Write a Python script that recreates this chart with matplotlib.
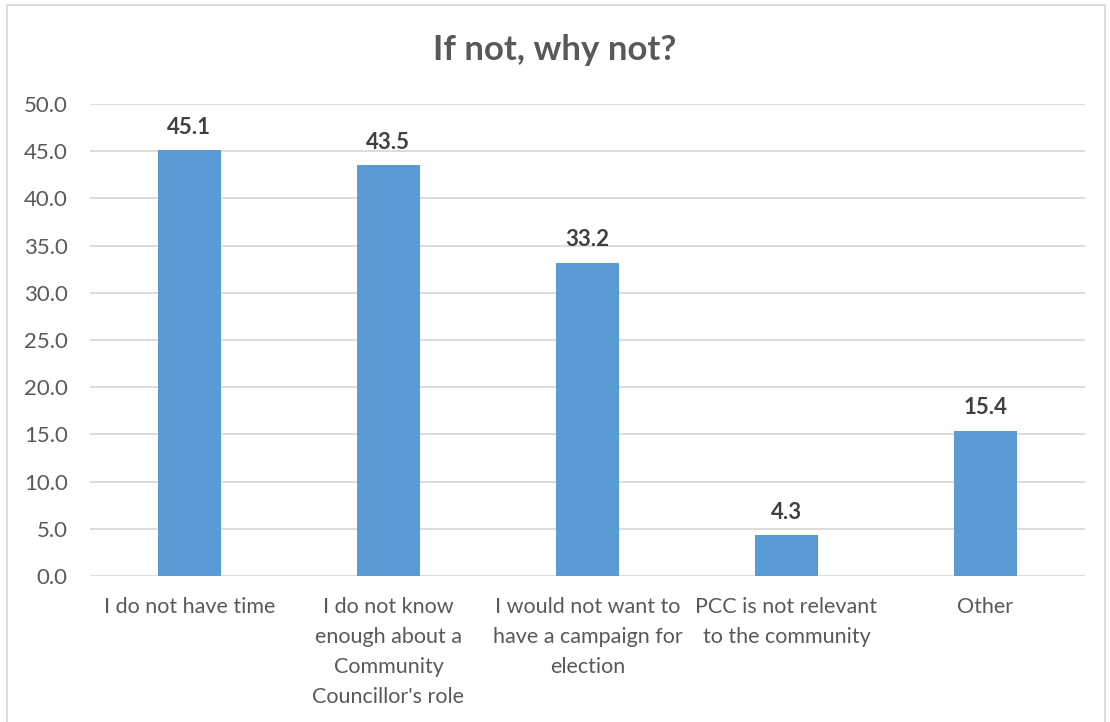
import matplotlib.pyplot as plt
import matplotlib.patches as patches
import numpy as np

categories = [
    "I do not have time",
    "I do not know\nenough about a\nCommunity\nCouncillor's role",
    "I would not want to\nhave a campaign for\nelection",
    "PCC is not relevant\nto the community",
    "Other",
]
values = [45.1, 43.5, 33.2, 4.3, 15.4]
yticks = [0, 5, 10, 15, 20, 25, 30, 35, 40, 45, 50]

plt.rcParams["font.family"] = ["Lato", "DejaVu Sans"]

fig = plt.figure(figsize=(11.1, 7.22), dpi=100)
ax = fig.add_axes([0.081, 0.2022, 0.8965, 0.6538])

x = np.arange(len(categories))
ax.bar(x, values, width=0.32, color="#5b9bd5", zorder=3)
for xi, v in zip(x, values):
    ax.text(xi, v + 1.3, f"{v:.1f}", ha="center", va="bottom",
            fontsize=16, fontweight="bold", color="#404040")

ax.set_xlim(-0.5, len(categories) - 0.5)
ax.set_ylim(0, 50)
ax.set_yticks(yticks)
ax.set_yticklabels([f"{t:.1f}" for t in yticks])
ax.set_xticks(x)
ax.set_xticklabels(categories, linespacing=1.62)
ax.tick_params(axis="both", length=0, labelsize=15.5, labelcolor="#595959")
ax.tick_params(axis="y", labelsize=16, pad=16)
ax.tick_params(axis="x", pad=15)
ax.grid(axis="y", color="#d9d9d9", linewidth=1.3, zorder=0)
for s in ax.spines.values():
    s.set_visible(False)

fig.text(0.5, 0.931, "If not, why not?", ha="center", va="center",
         fontsize=25, fontweight="bold", color="#595959")

fig.patches.append(patches.Rectangle((0.0063, -0.01), 0.989, 1.003,
                                     transform=fig.transFigure, fill=False,
                                     edgecolor="#d9d9d9", linewidth=1.3))

fig.savefig("out.png", dpi=100)
